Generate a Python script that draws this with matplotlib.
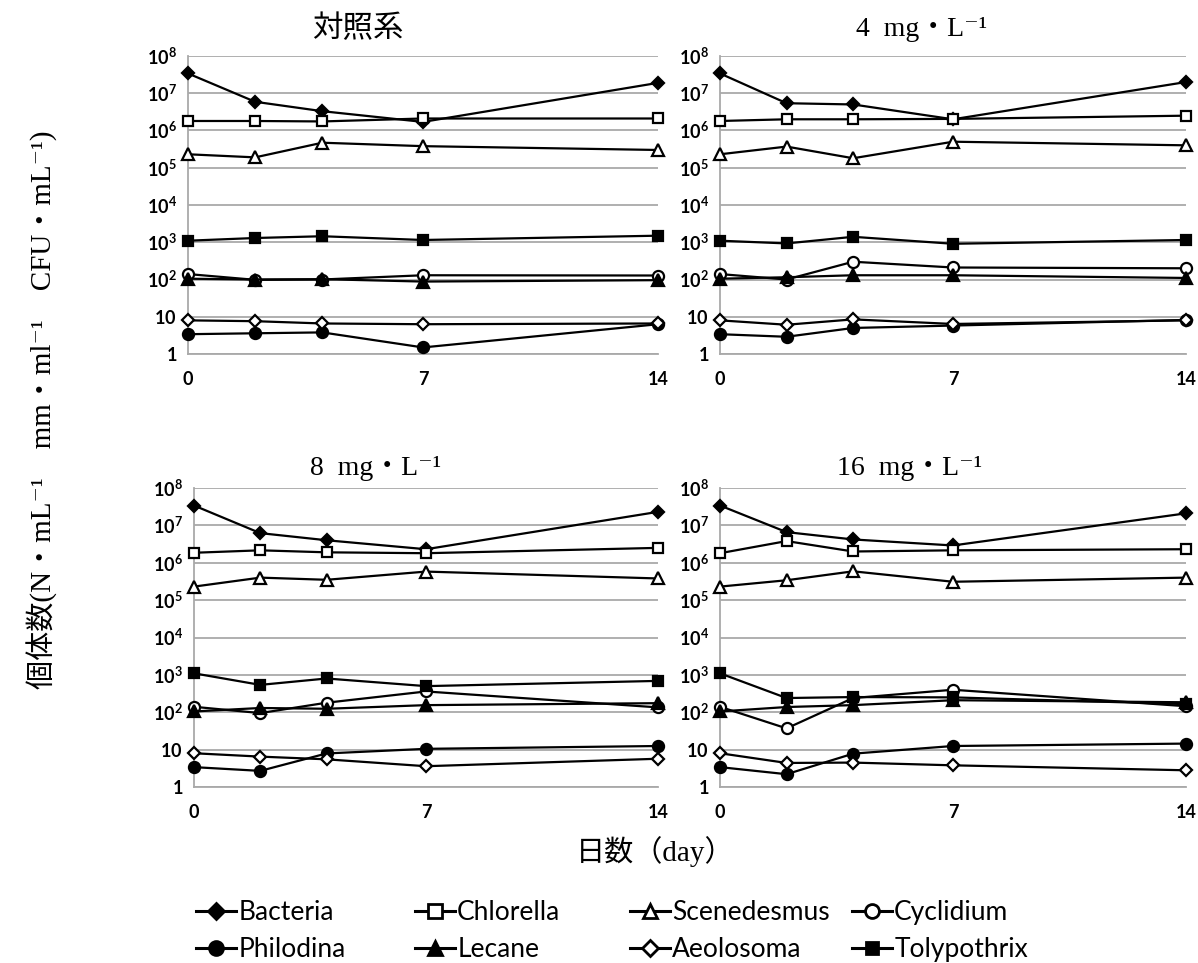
import matplotlib
matplotlib.use("Agg")
import matplotlib.pyplot as plt
from matplotlib.lines import Line2D

plt.rcParams['mathtext.fontset'] = 'custom'
plt.rcParams['mathtext.rm'] = 'Lato:bold'
plt.rcParams['mathtext.it'] = 'Lato:bold'
plt.rcParams['mathtext.bf'] = 'Lato:bold'

# sampling days
days = [0, 2, 4, 7, 14]

# panel titles: control, 4, 8, 16 mg/L
panel_titles = ["対照系", "4\u2002mg・L⁻¹", "8\u2002mg・L⁻¹", "16\u2002mg・L⁻¹"]
title_sizes = [22, 20, 20, 20]

# counts per panel (rows) and day (columns)
bacteria = [
    [3.4e7, 5.9e6, 3.3e6, 1.7e6, 1.9e7],
    [3.4e7, 5.4e6, 5.0e6, 2.0e6, 2.0e7],
    [3.4e7, 6.2e6, 4.0e6, 2.3e6, 2.3e7],
    [3.4e7, 6.6e6, 4.2e6, 2.9e6, 2.1e7],
]
chlorella = [
    [1.8e6, 1.8e6, 1.75e6, 2.1e6, 2.1e6],
    [1.8e6, 2.0e6, 2.0e6, 2.05e6, 2.5e6],
    [1.85e6, 2.15e6, 1.9e6, 1.8e6, 2.5e6],
    [1.8e6, 3.8e6, 2.0e6, 2.15e6, 2.3e6],
]
scenedesmus = [
    [2.3e5, 1.9e5, 4.7e5, 3.8e5, 3.0e5],
    [2.3e5, 3.7e5, 1.8e5, 5.0e5, 4.0e5],
    [2.3e5, 4.0e5, 3.5e5, 5.8e5, 3.8e5],
    [2.3e5, 3.4e5, 5.9e5, 3.1e5, 4.0e5],
]
cyclidium = [
    [140, 98, 100, 130, 128],
    [140, 100, 300, 210, 200],
    [140, 95, 180, 360, 135],
    [140, 37, 240, 400, 145],
]
philodina = [
    [3.4, 3.6, 3.8, 1.5, 6.3],
    [3.4, 2.9, 5.0, 5.8, 8.2],
    [3.4, 2.7, 7.9, 10.5, 12.5],
    [3.4, 2.2, 7.8, 12.5, 14.5],
]
lecane = [
    [105, 100, 102, 88, 96],
    [105, 115, 130, 130, 110],
    [105, 130, 124, 155, 175],
    [105, 138, 155, 210, 185],
]
aeolosoma = [
    [8.0, 7.6, 6.6, 6.3, 6.6],
    [8.0, 6.1, 8.5, 6.4, 8.0],
    [8.0, 6.5, 5.5, 3.6, 5.7],
    [8.0, 4.4, 4.5, 3.8, 2.8],
]
tolypothrix = [
    [1100, 1300, 1450, 1150, 1500],
    [1100, 930, 1400, 910, 1150],
    [1100, 540, 800, 500, 690],
    [1100, 240, 255, 250, 165],
]

series_names = ["Bacteria", "Chlorella", "Scenedesmus", "Cyclidium",
                "Philodina", "Lecane", "Aeolosoma", "Tolypothrix"]
series_data = [bacteria, chlorella, scenedesmus, cyclidium,
               philodina, lecane, aeolosoma, tolypothrix]
# marker, face colour, size
styles = [
    ("D", "black", 6),
    ("s", "white", 7.5),
    ("^", "white", 8),
    ("o", "white", 8),
    ("o", "black", 8),
    ("^", "black", 8),
    ("D", "white", 6.5),
    ("s", "black", 7),
]

fig = plt.figure(figsize=(11.98, 9.63), dpi=100)
W, H = 1198, 963

def ax_rect(left, right, top, bottom):
    return [left / W, 1 - bottom / H, (right - left) / W, (bottom - top) / H]

rects = [
    ax_rect(188, 658, 56, 354),
    ax_rect(720, 1186, 56, 354),
    ax_rect(194, 658, 488, 787),
    ax_rect(720, 1186, 488, 787),
]
title_pos = [(358, 30), (922, 30), (376, 468), (910, 468)]

grid_color = "#a9a9a9"
serif_family = ["Liberation Serif", "DejaVu Serif", "Noto Sans CJK JP"]

for p, rect in enumerate(rects):
    ax = fig.add_axes(rect)
    ax.set_yscale("log")
    ax.set_xlim(0, 14)
    ax.set_ylim(1, 1e8)
    yt = [10 ** k for k in range(9)]
    ax.set_yticks(yt)
    ax.set_yticklabels(["$1$", "$10$"] + [r"$10^{%d}$" % k for k in range(2, 9)])
    ax.minorticks_off()
    ax.set_xticks([0, 7, 14])
    ax.set_xticklabels(["0", "7", "14"], fontfamily="Lato", fontweight="bold")
    ax.tick_params(axis="both", length=0, labelsize=13)
    ax.tick_params(axis="y", pad=8)
    ax.tick_params(axis="x", pad=12)
    ax.grid(axis="y", color=grid_color, linewidth=1.3)
    ax.set_axisbelow(True)
    for side in ("top", "right"):
        ax.spines[side].set_visible(False)
    for side in ("left", "bottom"):
        ax.spines[side].set_color(grid_color)
        ax.spines[side].set_linewidth(1.3)
    for name, data, (mk, fc, ms) in zip(series_names, series_data, styles):
        ax.plot(days, data[p], color="black", linewidth=1.6, marker=mk,
                markersize=ms, markerfacecolor=fc, markeredgecolor="black",
                markeredgewidth=1.6, clip_on=False, zorder=3)
    tx, ty = title_pos[p]
    fig.text(tx / W, 1 - ty / H, panel_titles[p], ha="center", va="center",
             fontsize=title_sizes[p], family=serif_family)

# axis labels
fig.text(42 / W, 1 - 410 / H,
         "個体数(N・mL⁻¹\u3000mm・ml⁻¹\u3000CFU・mL⁻¹)",
         rotation=90, ha="center", va="center", fontsize=21,
         family=serif_family)
fig.text(655 / W, 1 - 852 / H, "日数（day）", ha="center", va="center",
         fontsize=21, family=serif_family)

# legend, laid out in four columns of two rows
col_x = [196, 415, 630, 852]
col_entries = [(0, 4), (1, 5), (2, 6), (3, 7)]
for cx, (i, j) in zip(col_x, col_entries):
    handles = []
    for k in (i, j):
        mk, fc, ms = styles[k]
        handles.append(Line2D([], [], color="black", linewidth=2.2, marker=mk,
                              markersize=ms + 2, markerfacecolor=fc,
                              markeredgecolor="black", markeredgewidth=2,
                              label=series_names[k]))
    fig.legend(handles=handles, loc="upper left",
               bbox_to_anchor=(cx / W, 1 - 900 / H), frameon=False,
               prop={"family": "Lato", "size": 19}, handlelength=1.5,
               handletextpad=0.1, borderpad=0, borderaxespad=0,
               labelspacing=0.45)

fig.savefig("out.png", dpi=100)
